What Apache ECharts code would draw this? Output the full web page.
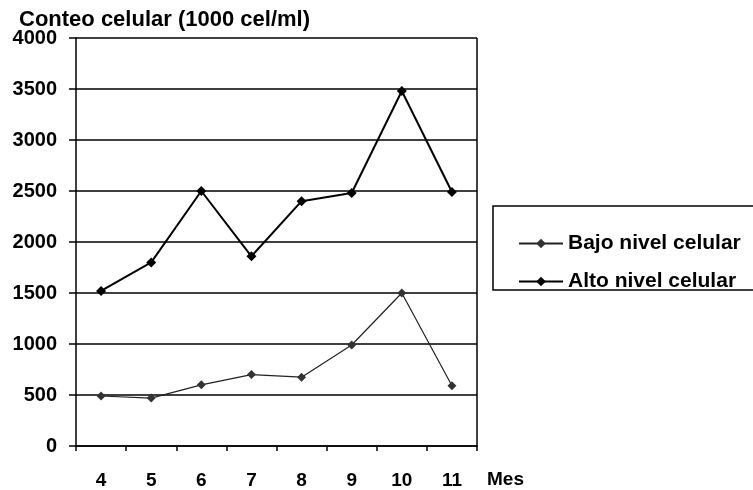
<!DOCTYPE html>
<html><head><meta charset="utf-8">
<script src="https://cdn.jsdelivr.net/npm/echarts@6/dist/echarts.min.js"></script>
<style>html,body{margin:0;padding:0;background:#fff}#c{width:753px;height:490px}</style>
</head><body><div id="c"></div>
<script>
var months = ['4','5','6','7','8','9','10','11'];
var bajo = [490, 470, 600, 700, 675, 990, 1500, 590];
var alto = [1520, 1800, 2500, 1860, 2400, 2480, 3480, 2490];
var yTicks = [0, 500, 1000, 1500, 2000, 2500, 3000, 3500, 4000];
var FONT = 'Liberation Sans, Arial, sans-serif';
var chart = echarts.init(document.getElementById('c'), null, {renderer:'canvas'});
chart.setOption({
  animation:false,
  backgroundColor:'#fff',
  title:{text:'Conteo celular (1000 cel/ml)', left:14, top:4,
    textStyle:{fontFamily:FONT, fontWeight:'bold', fontSize:22, color:'#000'}},
  grid:{left:76, right:276, top:38, bottom:43, show:false},
  xAxis:{type:'category', data:months, boundaryGap:true,
    name:'Mes', nameLocation:'end', nameGap:10,
    nameTextStyle:{fontFamily:FONT, fontWeight:'bold', fontSize:19, color:'#000', verticalAlign:'top', padding:[24,0,0,0]},
    axisLine:{lineStyle:{color:'#000', width:1.5}},
    axisTick:{show:true, alignWithLabel:false, length:5, lineStyle:{color:'#000', width:1.5}},
    axisLabel:{fontFamily:FONT, fontWeight:'bold', fontSize:19, color:'#000', margin:25},
    splitLine:{show:false}},
  yAxis:{type:'value', min:yTicks[0], max:yTicks[yTicks.length-1], interval:500,
    axisLine:{show:true, lineStyle:{color:'#000', width:1.5}},
    axisTick:{show:true, length:7, lineStyle:{color:'#000', width:1.5}},
    axisLabel:{fontFamily:FONT, fontWeight:'bold', fontSize:20, color:'#000', margin:19,
      formatter:function(v){return String(v);}},
    splitLine:{show:true, lineStyle:{color:'#000', width:1.5}}},
  legend:{orient:'vertical', left:513, top:228, itemGap:17, itemWidth:44, itemHeight:12,
    data:['Bajo nivel celular','Alto nivel celular'],
    textStyle:{fontFamily:FONT, fontWeight:'bold', fontSize:21, color:'#000'}},
  graphic:[
    {type:'rect', shape:{x:493, y:206, width:300, height:84}, style:{fill:'none', stroke:'#000', lineWidth:1.5}, z:0},
    {type:'line', shape:{x1:477, y1:38, x2:477, y2:447}, style:{stroke:'#000', lineWidth:1.5}}
  ],
  series:[
    {name:'Bajo nivel celular', type:'line', data:bajo, symbol:'diamond', symbolSize:9,
      lineStyle:{color:'#222', width:1.2}, itemStyle:{color:'#333'}},
    {name:'Alto nivel celular', type:'line', data:alto, symbol:'diamond', symbolSize:10,
      lineStyle:{color:'#000', width:2}, itemStyle:{color:'#000'}}
  ]
});
</script></body></html>
